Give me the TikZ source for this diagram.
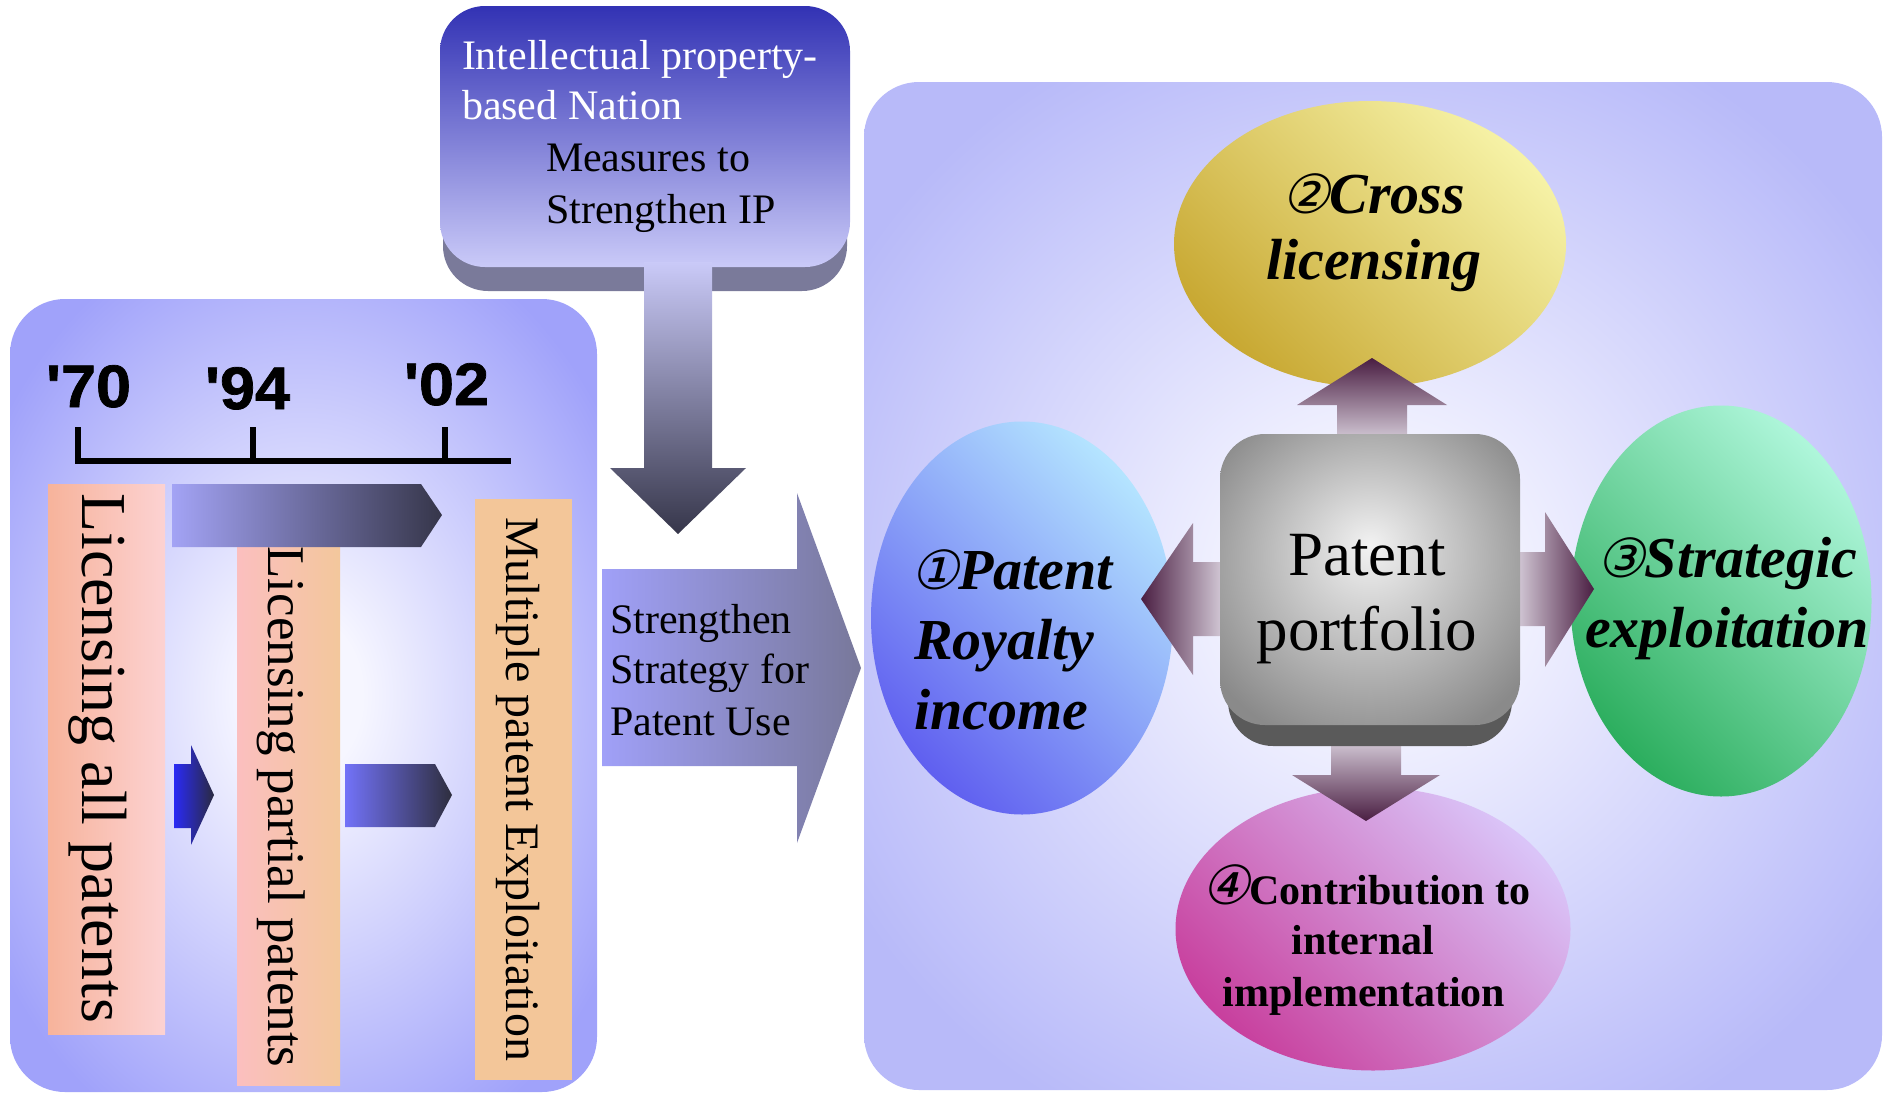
\documentclass[tikz,border=0pt]{standalone}
\usepackage{fontspec}
\setmainfont{Liberation Serif}
\newfontfamily\yearfont{Liberation Sans}[FakeBold=1.2, FakeStretch=1.05]
\newfontfamily\circfont{DejaVu Sans}[FakeSlant=0.25]
\usetikzlibrary{shapes.geometric}

\definecolor{panelL}{HTML}{A0A2FA}
\definecolor{panelR}{HTML}{B8BAF9}
\definecolor{glowC}{HTML}{F6F6FF}
\definecolor{sqEdge}{HTML}{8A8A8A}
\definecolor{sqMid}{HTML}{F2F2F2}
\definecolor{sqDark}{HTML}{5A5A5A}
\definecolor{arrDark}{HTML}{4A1E42}
\definecolor{arrLight}{HTML}{DCD4E0}
\definecolor{tbTop}{HTML}{3232B4}
\definecolor{tbBot}{HTML}{CACAF8}
\definecolor{tbSide}{HTML}{7A7A9A}
\definecolor{darkNavy}{HTML}{36364A}
\definecolor{bigL}{HTML}{A0A0F8}
\definecolor{bigR}{HTML}{78789A}
\definecolor{boxA1}{HTML}{F7B39B}
\definecolor{boxA2}{HTML}{FCD2D2}
\definecolor{boxB1}{HTML}{FBBFBF}
\definecolor{boxB2}{HTML}{F3C79C}
\definecolor{boxC}{HTML}{F3C699}
\definecolor{arTop1}{HTML}{A3A3F5}
\definecolor{arS1a}{HTML}{2A2AF5}
\definecolor{arS1b}{HTML}{2A2A40}
\definecolor{arS2a}{HTML}{7272F8}
\definecolor{arS2b}{HTML}{2E2E3E}
\definecolor{yelD}{HTML}{C8A832}
\definecolor{yelL}{HTML}{F6F2A6}
\definecolor{bluD}{HTML}{6060F0}
\definecolor{bluL}{HTML}{B4E4FF}
\definecolor{grnD}{HTML}{2CAE5E}
\definecolor{grnL}{HTML}{AEF6DA}
\definecolor{magD}{HTML}{C8409E}
\definecolor{magL}{HTML}{DAC4F8}

\pgfdeclareradialshading{glowLeft}{\pgfpoint{0bp}{0bp}}{color(0bp)=(glowC); color(5bp)=(glowC); color(31bp)=(panelL); color(50bp)=(panelL)}
\pgfdeclareradialshading{glowRight}{\pgfpoint{0bp}{0bp}}{color(0bp)=(glowC); color(5bp)=(glowC); color(30bp)=(panelR); color(50bp)=(panelR)}
\pgfdeclareradialshading{sqShade}{\pgfpoint{0bp}{6bp}}{color(0bp)=(sqMid); color(32bp)=(sqEdge); color(50bp)=(sqEdge)}

\begin{document}
\begin{tikzpicture}[x=1pt,y=-1pt,
  txt/.style={inner sep=0pt, outer sep=0pt},
  panel/.style={rectangle, rounded corners=55pt, inner sep=0pt, shade},
  oval/.style={ellipse, inner sep=0pt, shade},
  boldit/.style={font=\fontsize{58}{70}\selectfont\bfseries\itshape},
  boldup/.style={font=\fontsize{42}{50}\selectfont\bfseries},
  serif42/.style={font=\fontsize{42}{50}\selectfont},
  yearstyle/.style={font=\yearfont\bfseries\fontsize{60}{70}\selectfont},
  axisline/.style={line width=5.5pt}
]
\useasboundingbox (0,0) rectangle (1886,1092);

% ---------- panels
\node[panel, shading=glowLeft, minimum width=587pt, minimum height=793pt] (lpanel) at (303.5,695.5) {};
\node[panel, shading=glowRight, minimum width=1018pt, minimum height=1008pt] (rpanel) at (1373,586) {};

% ---------- top box with extrusion
\node[rectangle, rounded corners=45pt, fill=tbSide, minimum width=404pt, minimum height=261pt, inner sep=0pt] (tbox3d) at (645,160.5) {};
\node[rectangle, rounded corners=45pt, shade, top color=tbTop, bottom color=tbBot, minimum width=410pt, minimum height=261pt, inner sep=0pt] (tbox) at (645,136.5) {};

% down arrow from top box
\path[shade, top color=tbBot, bottom color=darkNavy]
  (644,262) -- (712,262) -- (712,468) -- (746,468) -- (678,534) -- (610,468) -- (644,468) -- cycle;

% big right arrow
\path[shade, left color=bigL, right color=bigR]
  (602,569) -- (797,569) -- (797,493) -- (861,668) -- (797,843) -- (797,766) -- (602,766) -- cycle;

% ---------- left panel content
\node[txt, yearstyle, anchor=base west] (y70) at (46,407) {'70};
\node[txt, yearstyle, anchor=base west] (y94) at (205,409) {'94};
\node[txt, yearstyle, anchor=base west] (y02) at (404,405) {'02};
\draw[axisline] (78,427) -- (78,461) -- (511,461);
\draw[axisline] (253,427) -- (253,461);
\draw[axisline] (445,427) -- (445,461);

\node[rectangle, inner sep=0pt, shade, left color=boxA1, right color=boxA2, minimum width=117pt, minimum height=550pt] (boxA) at (106.5,759) {};
\node[rectangle, inner sep=0pt, shade, left color=boxB1, right color=boxB2, minimum width=103pt, minimum height=538pt] (boxB) at (288.5,816) {};
\node[rectangle, inner sep=0pt, fill=boxC, minimum width=97pt, minimum height=581pt] (boxC) at (523.5,789.5) {};

\path[shade, left color=arTop1, right color=darkNavy]
  (172,484) -- (421,484) -- (442,515) -- (421,547) -- (172,547) -- cycle;
\path[shade, left color=arS1a, right color=arS1b]
  (174,764) -- (191,764) -- (191,745) -- (214,795) -- (191,845) -- (191,828) -- (174,828) -- cycle;
\path[shade, left color=arS2a, right color=arS2b]
  (345,764) -- (435,764) -- (452,795) -- (435,827) -- (345,827) -- cycle;

\node[txt, rotate=-90, font=\fontsize{64}{70}\selectfont] (licA) at (98,758) {Licensing all patents};
\node[txt, rotate=-90, font=\fontsize{53}{60}\selectfont] (licB) at (281,807) {Licensing partial patents};
\node[txt, rotate=-90, font=\fontsize{48}{56}\selectfont] (licC) at (518,789) {Multiple patent Exploitation};

% ---------- ellipses
\node[oval, top color=yelL, bottom color=yelD, shading angle=-45, minimum width=392pt, minimum height=286pt] (ell2) at (1370,244) {};
\node[oval, top color=bluL, bottom color=bluD, shading angle=-45, minimum width=302pt, minimum height=393pt] (ell1) at (1022,618) {};
\node[oval, top color=grnL, bottom color=grnD, shading angle=-45, minimum width=301pt, minimum height=391pt] (ell3) at (1721,601) {};
\node[oval, top color=magL, bottom color=magD, shading angle=-45, minimum width=395pt, minimum height=283pt] (ell4) at (1373,929) {};

% ---------- four arrows from centre
\path[shade, top color=arrDark, bottom color=arrLight]
  (1337,445) -- (1337,405) -- (1297,405) -- (1372,358) -- (1447,405) -- (1407,405) -- (1407,445) -- cycle;
\path[shade, top color=arrLight, bottom color=arrDark]
  (1331,735) -- (1331,775) -- (1292,775) -- (1366,821) -- (1440,775) -- (1401,775) -- (1401,735) -- cycle;
\path[shade, left color=arrDark, right color=arrLight]
  (1228,562) -- (1193,562) -- (1193,523) -- (1141,599) -- (1193,675) -- (1193,636) -- (1228,636) -- cycle;
\path[shade, left color=arrLight, right color=arrDark]
  (1512,552) -- (1545,552) -- (1545,512) -- (1594,589) -- (1545,667) -- (1545,626) -- (1512,626) -- cycle;

% ---------- centre square
\node[rectangle, rounded corners=45pt, fill=sqDark, minimum width=284pt, minimum height=291pt, inner sep=0pt] (sq3d) at (1370,600.5) {};
\node[rectangle, rounded corners=45pt, shade, shading=sqShade, minimum width=300pt, minimum height=291pt, inner sep=0pt] (sq) at (1370,579.5) {};

% ---------- texts
\node[txt, anchor=base west, serif42, text=white] (ip1) at (462,69) {Intellectual property-};
\node[txt, anchor=base west, serif42, text=white] (ip2) at (462,119) {based Nation};
\node[txt, anchor=base west, serif42] (ms1) at (546,171) {Measures to};
\node[txt, anchor=base west, serif42] (ms2) at (546,223) {Strengthen IP};

\node[txt, anchor=base west, serif42] (st1) at (610,633) {Strengthen};
\node[txt, anchor=base west, serif42] (st2) at (610,683) {Strategy for};
\node[txt, anchor=base west, serif42] (st3) at (610,735) {Patent Use};

\node[txt, anchor=base, font=\fontsize{63}{75}\selectfont] (pp1) at (1367,575) {Patent};
\node[txt, anchor=base, font=\fontsize{63}{75}\selectfont] (pp2) at (1367,650) {portfolio};

\node[txt, anchor=base west, boldit] (e1a) at (910,589) {{\circfont\mdseries\upshape\fontsize{54}{60}\selectfont ①}Patent};
\node[txt, anchor=base west, boldit] (e1b) at (914,659) {Royalty};
\node[txt, anchor=base west, boldit] (e1c) at (914,729) {income};

\node[txt, anchor=base, boldit] (e2a) at (1373,213) {{\circfont\mdseries\upshape\fontsize{54}{60}\selectfont ②}Cross};
\node[txt, anchor=base, boldit] (e2b) at (1374,279) {licensing};

\node[txt, anchor=base, boldit] (e3a) at (1727,577) {{\circfont\mdseries\upshape\fontsize{54}{60}\selectfont ③}Strategic};
\node[txt, anchor=base, boldit] (e3b) at (1727,647) {exploitation};

\node[txt, anchor=base, boldup] (e4a) at (1366,904) {{\circfont\mdseries\upshape\fontsize{54}{50}\selectfont ④}Contribution to};
\node[txt, anchor=base, boldup] (e4b) at (1363,954) {internal};
\node[txt, anchor=base, boldup] (e4c) at (1364,1006) {implementation};
\end{tikzpicture}
\end{document}
